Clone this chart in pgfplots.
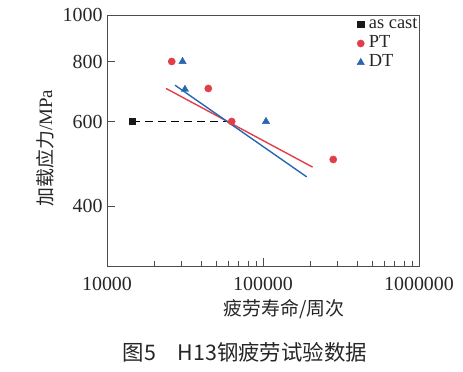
\documentclass[border=0pt]{standalone}
\usepackage{pgfplots}
\pgfplotsset{compat=1.18}
\usepackage{fontspec}
\setmainfont{Liberation Serif}
\newfontfamily\cjk{Noto Sans CJK SC}
\definecolor{myred}{RGB}{226,62,74}
\definecolor{myblue}{RGB}{38,103,178}
\newcommand{\legfont}{\fontsize{18.5}{19}\selectfont}
\begin{document}
\begin{tikzpicture}
\begin{axis}[
  name=ax,
  scale only axis,
  width=312bp, height=251bp,
  xmode=log, ymode=log,
  xmin=10000, xmax=1000000,
  ymin=300, ymax=1000,
  xtick={10000,100000,1000000},
  xticklabels={10000,100000,1000000},
  ytick={400,600,800,1000},
  yticklabels={400,600,800,1000},
  minor ytick={},
  /pgf/number format/assume math mode=true,
  tick align=inside,
  xtick pos=bottom, ytick pos=left,
  major tick length=8bp, minor tick length=5bp,
  axis line style={draw=black!70, line width=0.8pt},
  tick style={draw=black!70, line width=0.7pt},
  ticklabel style={font=\fontsize{20}{20}\selectfont, text=black!85},
  xticklabel style={yshift=-8bp},
  yticklabel style={xshift=-1bp},
  xlabel={\cjk 疲劳寿命/周次},
  ylabel={{\cjk 加载应力}/MPa},
  label style={font=\fontsize{19}{19}\selectfont, text=black!85},
  xlabel style={at={(ticklabel cs:0.567)}, yshift=-2bp},
  ylabel style={at={(ticklabel cs:0.47)}, yshift=2bp},
  legend style={at={(1,1)}, anchor=north east, draw=none, fill=none,
    text=black!85, row sep=0bp, column sep=3bp,
    inner sep=0bp, outer sep=0bp,
    nodes={inner sep=1.5bp, text height=12.5bp, text depth=3.5bp}},
  legend cell align=left,
  legend image code/.code={\draw[#1] plot coordinates {(0.12cm,0cm)};},
]
\addplot[black, line width=0.9pt, dash pattern=on 8bp off 5bp, forget plot] coordinates {(14500,600) (60000,600)};
\addplot[only marks, mark=square*, mark size=3.2bp, color=black!90] coordinates {(14500,600)};
\addlegendentry{\legfont as cast}
\addplot[only marks, mark=*, mark size=3.6bp, color=myred] coordinates {
(26000,800) (44600,703) (63000,600) (282000,500)};
\addlegendentry{\legfont PT}
\addplot[only marks, mark=triangle*, mark size=4.2bp, color=myblue] coordinates {
(30500,800) (31600,700) (104500,600)};
\addlegendentry{\legfont DT}
\addplot[myred, line width=1.4pt, forget plot] coordinates {(23900,703) (208000,482)};
\addplot[myblue, line width=1.4pt, forget plot] coordinates {(27300,714) (190600,460)};
\end{axis}
\node[anchor=center, font=\fontsize{21.5}{21.5}\selectfont\cjk, text=black!85] at ([xshift=-18bp,yshift=-86bp]ax.south) {图5\quad H13钢疲劳试验数据};
\useasboundingbox ([xshift=-107bp,yshift=-106bp]ax.south west) rectangle ([xshift=44bp,yshift=15bp]ax.north east);
\end{tikzpicture}
\end{document}
